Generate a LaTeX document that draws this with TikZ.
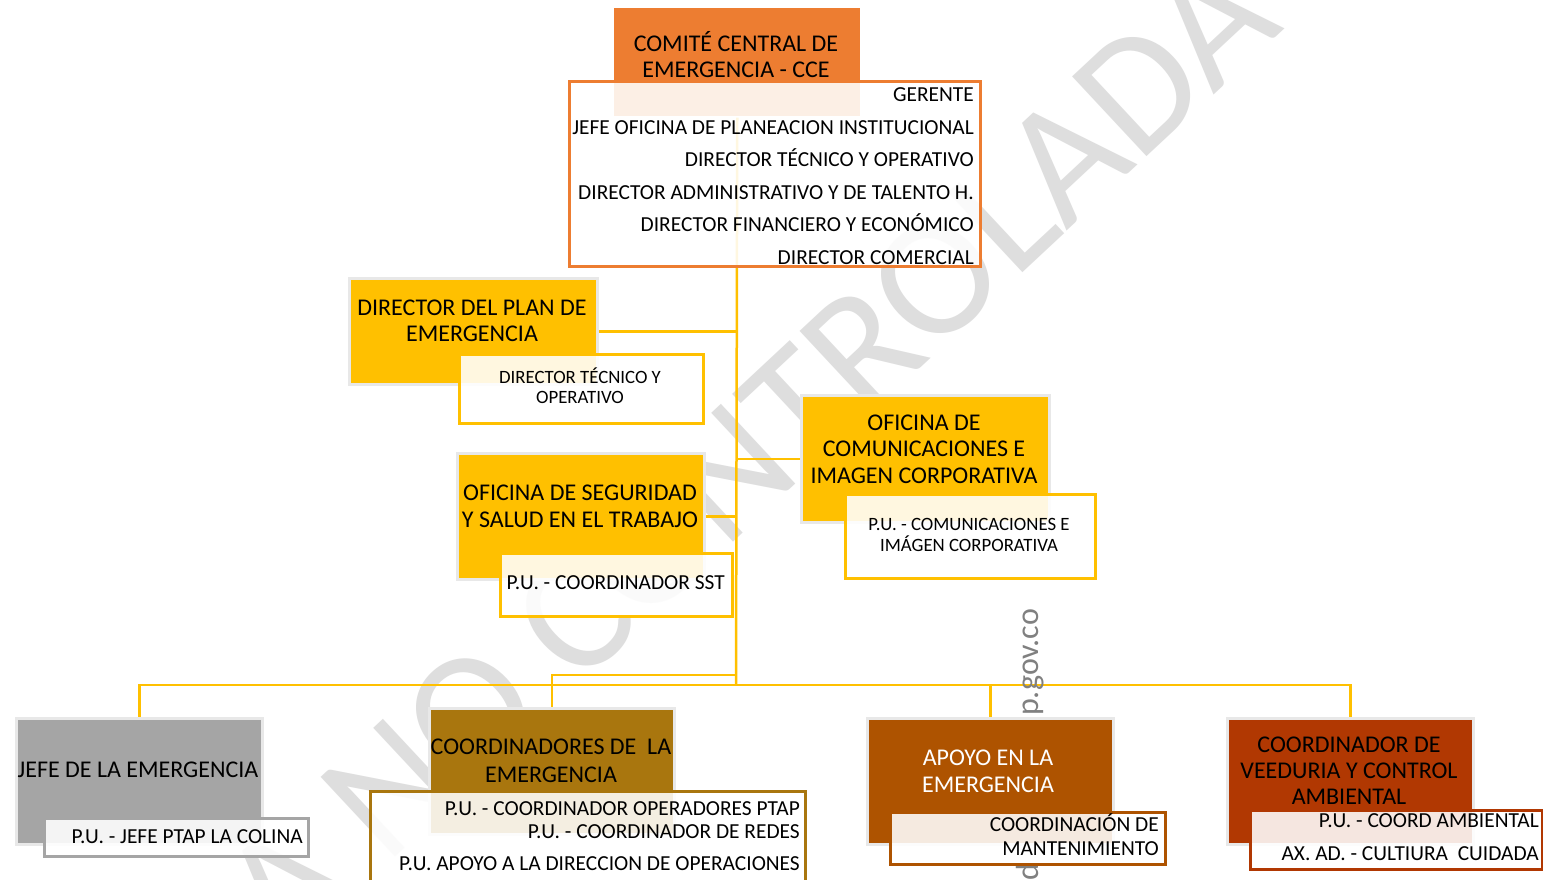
\documentclass[tikz,border=0pt]{standalone}
\usepackage{fontspec}
\setmainfont{Carlito}
\usetikzlibrary{backgrounds}
\pgfdeclarelayer{paper}
\pgfsetlayers{paper,background,main}
\definecolor{cyel}{HTML}{FFC000}
\definecolor{corg}{HTML}{ED7D31}
\definecolor{cgry}{HTML}{A5A5A5}
\definecolor{cgold}{HTML}{A9760E}
\definecolor{cbrn}{HTML}{AE5300}
\definecolor{cred}{HTML}{B13802}
\definecolor{cwm}{HTML}{DEDEDE}
\begin{document}
\begin{tikzpicture}[x=1pt,y=-1pt,
  conn/.style={draw=cyel,line width=2.5pt},
  mainbox/.style={rectangle,draw=black!9,line width=2.5pt,inner sep=0pt,anchor=north west},
  subbox/.style={rectangle,fill=white,fill opacity=0.88,line width=2.5pt,inner sep=0pt,anchor=north west},
  big/.style={inner sep=0pt,font=\fontsize{24}{28}\selectfont},
  mid/.style={inner sep=0pt,font=\fontsize{21.4}{25}\selectfont},
  sml/.style={inner sep=0pt,font=\fontsize{18.8}{22}\selectfont},
  url/.style={inner sep=0pt,text=black!50,rotate=90,font=\fontsize{32}{32}\selectfont}]
\useasboundingbox (0,0) rectangle (1543,879);
\begin{pgfonlayer}{paper}
\fill[white] (0,0) rectangle (1543,879);
\end{pgfonlayer}

% ---------- boxes ----------
\node[mainbox,draw=none,fill=corg,minimum width=246pt,minimum height=108pt] (cce) at (613,7) {};
\node[subbox,draw=corg,minimum width=411pt,minimum height=185pt] (cces) at (568,80) {};

\node[mainbox,fill=cyel,minimum width=248pt,minimum height=106pt] (dpe) at (348,277) {};
\node[subbox,draw=cyel,minimum width=244pt,minimum height=69pt] (dpes) at (458,353) {};

\node[mainbox,fill=cyel,minimum width=247pt,minimum height=126pt] (sst) at (456,452) {};
\node[subbox,draw=cyel,minimum width=232pt,minimum height=63pt] (ssts) at (499,552) {};

\node[mainbox,fill=cyel,minimum width=248pt,minimum height=127pt] (com) at (800,394) {};
\node[subbox,draw=cyel,minimum width=250pt,minimum height=84pt] (coms) at (844,493) {};

\node[mainbox,fill=cgry,minimum width=246pt,minimum height=126pt] (jefe) at (15,717) {};
\node[subbox,draw=cgry,minimum width=264pt,minimum height=38pt] (jefes) at (43,817) {};

\node[mainbox,fill=cgold,minimum width=245pt,minimum height=126pt] (coord) at (428,707) {};
\node[subbox,draw=cgold,minimum width=435pt,minimum height=105pt] (coords) at (369,790) {};

\node[mainbox,fill=cbrn,minimum width=246pt,minimum height=126pt] (apoyo) at (866,717) {};
\node[subbox,draw=cbrn,minimum width=275pt,minimum height=52pt] (apoyos) at (889,811) {};

\node[mainbox,fill=cred,minimum width=246pt,minimum height=126pt] (veed) at (1226,717) {};
\node[subbox,draw=cred,minimum width=292pt,minimum height=59pt] (veeds) at (1249,809) {};

% ---------- texts ----------
\node[big,anchor=base] (t1) at (736,51.7) {COMITÉ CENTRAL DE};
\node[big,anchor=base] (t2) at (736,77.7) {EMERGENCIA - CCE};
\node[mid,anchor=base east] (g1) at (974,101.8) {GERENTE};
\node[mid,anchor=base east] (g2) at (974,134.8) {JEFE OFICINA DE PLANEACION INSTITUCIONAL};
\node[mid,anchor=base east] (g3) at (974,166.8) {DIRECTOR TÉCNICO Y OPERATIVO};
\node[mid,anchor=base east] (g4) at (974,199.8) {DIRECTOR ADMINISTRATIVO Y DE TALENTO H.};
\node[mid,anchor=base east] (g5) at (974,231.8) {DIRECTOR FINANCIERO Y ECONÓMICO};
\node[mid,anchor=base east] (g6) at (974,264.8) {DIRECTOR COMERCIAL};

\node[big,anchor=base] (d1) at (472,315.7) {DIRECTOR DEL PLAN DE};
\node[big,anchor=base] (d2) at (472,341.7) {EMERGENCIA};
\node[sml,anchor=base] (d3) at (580,383) {DIRECTOR TÉCNICO Y};
\node[sml,anchor=base] (d4) at (580,403) {OPERATIVO};

\node[big,anchor=base] (s1) at (580,500.7) {OFICINA DE SEGURIDAD};
\node[big,anchor=base] (s2) at (580,527.7) {Y SALUD EN EL TRABAJO};
\node[mid,anchor=base east] (s3) at (725,589.8) {P.U. - COORDINADOR SST};

\node[big,anchor=base] (c1) at (924,430.7) {OFICINA DE};
\node[big,anchor=base] (c2) at (924,456.7) {COMUNICACIONES E};
\node[big,anchor=base] (c3) at (924,483.7) {IMAGEN CORPORATIVA};
\node[sml,anchor=base] (c4) at (969,530) {P.U. - COMUNICACIONES E};
\node[sml,anchor=base] (c5) at (969,551) {IMÁGEN CORPORATIVA};

\node[big,anchor=base] (j1) at (138,777.7) {JEFE DE LA EMERGENCIA};
\node[mid,anchor=base east] (j2) at (303,843.8) {P.U. - JEFE PTAP LA COLINA};

\node[big,anchor=base] (k1) at (551,754.7) {COORDINADORES DE\ \ LA};
\node[big,anchor=base] (k2) at (551,782.7) {EMERGENCIA};
\node[mid,anchor=base east] (k3) at (800,815.8) {P.U. - COORDINADOR OPERADORES PTAP};
\node[mid,anchor=base east] (k4) at (800,838.8) {P.U. - COORDINADOR DE REDES};
\node[mid,anchor=base east] (k5) at (800,870.8) {P.U. APOYO A LA DIRECCION DE OPERACIONES};

\node[big,anchor=base,text=white] (a1) at (988,765.7) {APOYO EN LA};
\node[big,anchor=base,text=white] (a2) at (988,792.7) {EMERGENCIA};
\node[mid,anchor=base east] (a3) at (1159,831.8) {COORDINACIÓN DE};
\node[mid,anchor=base east] (a4) at (1159,855.8) {MANTENIMIENTO};

\node[big,anchor=base] (v1) at (1349,752.7) {COORDINADOR DE};
\node[big,anchor=base] (v2) at (1349,778.7) {VEEDURIA Y CONTROL};
\node[big,anchor=base] (v3) at (1349,804.7) {AMBIENTAL};
\node[mid,anchor=base east] (v4) at (1539,827.8) {P.U. - COORD AMBIENTAL};
\node[mid,anchor=base east] (v5) at (1539,860.8) {AX. AD. - CULTIURA\ \ CUIDADA};

% ---------- background: watermark and connectors ----------
\begin{scope}[on background layer]
\node[inner sep=0pt,text=cwm,rotate=43,anchor=base east,font=\fontsize{170}{170}\selectfont] (wm) at (1285,28) {COPIA NO CONTROLADA};
\coordinate (bus) at (736,685);
\coordinate (brk) at (736,675);
\draw[conn] (cce.south) -- (bus);
\draw[conn] (dpe.east) -- (dpe.east -| cce.south);
\draw[conn] (sst.east) -- (sst.east -| cce.south);
\draw[conn] (com.west) -- (com.west -| cce.south);
\draw[conn] (coord.north) |- (brk);
\draw[conn] (jefe.north) |- (bus);
\draw[conn] (apoyo.north) |- (bus);
\draw[conn] (veed.north) |- (bus);
\node[url,anchor=base west] (url1) at (1038,716) {p.gov.co};
\node[url,anchor=base west] (url2) at (1038,881) {d};
\end{scope}
\end{tikzpicture}
\end{document}
